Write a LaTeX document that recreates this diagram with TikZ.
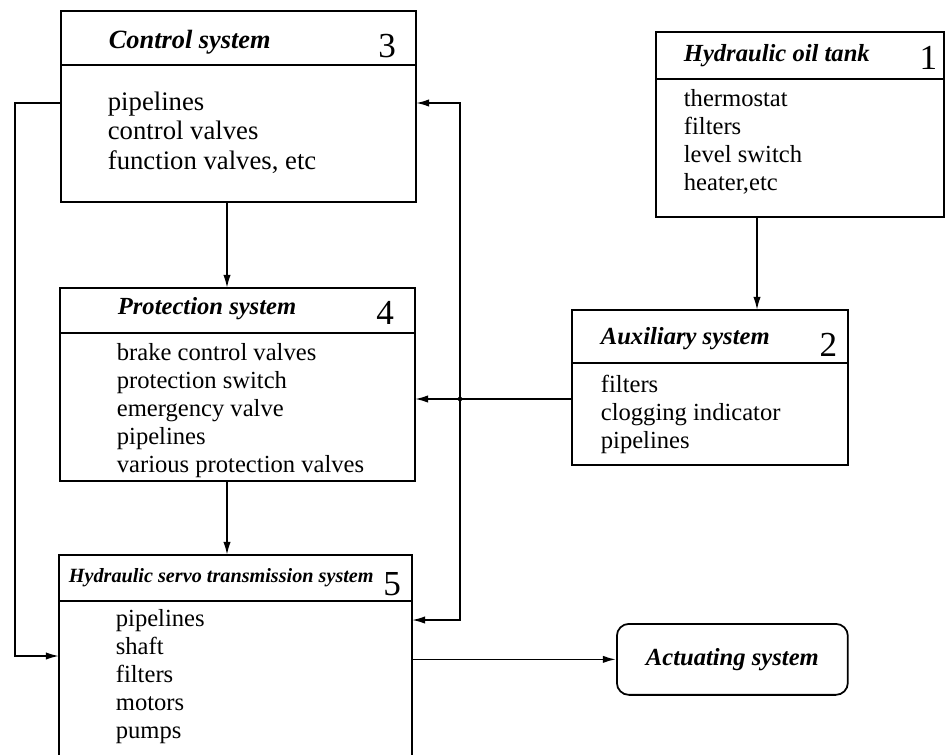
\documentclass[tikz,border=0pt]{standalone}
\usepackage{fontspec}
\setmainfont{Liberation Serif}
\usetikzlibrary{arrows.meta,positioning,calc}

\begin{document}
\begin{tikzpicture}[
    x=0.02cm, y=-0.02cm,
    line width=1pt,
    >={Latex[length=7.5pt,width=4.2pt]},
    boxpart/.style={draw, rectangle, inner sep=0pt, outer sep=0pt, anchor=north west},
    title/.style={font=\fontsize{14}{16}\selectfont\bfseries\itshape, inner sep=0pt, anchor=west},
    number/.style={font=\fontsize{20}{22}\selectfont, inner sep=0pt, anchor=base east},
    items/.style={font=\fontsize{14}{15.9}\selectfont, align=left, inner sep=0pt, anchor=north west}
]

% Frame
\useasboundingbox (0,0) rectangle (946,754);
\clip (0,0) rectangle (946,754);

% Control system
\node[boxpart, minimum width=7.1cm, minimum height=1.08cm] (ctrl-head) at (61,11) {};
\node[boxpart, minimum width=7.1cm, minimum height=2.74cm] (ctrl) at (ctrl-head.south west) {};
\node[title, font=\fontsize{15}{17}\selectfont\bfseries\itshape] (ctrl-title) at ($(ctrl-head.west)+(47,4)$) {Control system};
\node[number] (ctrl-num) at ($(ctrl-head.south east)+(-19,-7)$) {3};
\node[items, font=\fontsize{15.2}{16.7}\selectfont] (ctrl-list) at ($(ctrl.north west)+(46,26)$)
    {pipelines\\control valves\\function valves, etc};

% Protection system
\node[boxpart, minimum width=7.1cm, minimum height=0.9cm] (prot-head) at (60,288) {};
\node[boxpart, minimum width=7.1cm, minimum height=2.96cm] (prot) at (prot-head.south west) {};
\node[title] (prot-title) at ($(prot-head.west)+(57,-2)$) {Protection system};
\node[number] (prot-num) at ($(prot-head.south east)+(-20,-8)$) {4};
\node[items] (prot-list) at ($(prot.north west)+(56,10)$)
    {brake control valves\\protection switch\\emergency valve\\pipelines\\various protection valves};

% Hydraulic servo transmission system
\node[boxpart, minimum width=7.06cm, minimum height=0.92cm] (svo-head) at (59,555) {};
\node[boxpart, minimum width=7.06cm, minimum height=3.4cm] (svo) at (svo-head.south west) {};
\node[title, font=\fontsize{11.5}{13}\selectfont\bfseries\itshape] (svo-title) at ($(svo-head.west)+(9,0)$)
    {Hydraulic servo transmission system};
\node[number] (svo-num) at ($(svo-head.south east)+(-10,-6)$) {5};
\node[items] (svo-list) at ($(svo.north west)+(56,8)$)
    {pipelines\\shaft\\filters\\motors\\pumps};

% Hydraulic oil tank
\node[boxpart, minimum width=5.76cm, minimum height=0.94cm] (tank-head) at (656,32) {};
\node[boxpart, minimum width=5.76cm, minimum height=2.76cm] (tank) at (tank-head.south west) {};
\node[title] (tank-title) at ($(tank-head.west)+(27,0)$) {Hydraulic oil tank};
\node[number] (tank-num) at ($(tank-head.south east)+(-6,-9)$) {1};
\node[items] (tank-list) at ($(tank.north west)+(27,10)$)
    {thermostat\\filters\\level switch\\heater,etc};

% Auxiliary system
\node[boxpart, minimum width=5.52cm, minimum height=1.06cm] (aux-head) at (572,310) {};
\node[boxpart, minimum width=5.52cm, minimum height=2.04cm] (aux) at (aux-head.south west) {};
\node[title] (aux-title) at ($(aux-head.west)+(28,2)$) {Auxiliary system};
\node[number] (aux-num) at ($(aux-head.south east)+(-10,-6)$) {2};
\node[items] (aux-list) at ($(aux.north west)+(28,11)$)
    {filters\\clogging indicator\\pipelines};

% Actuating system
\node[draw, rounded corners=0.24cm, minimum width=4.62cm, minimum height=1.42cm, inner sep=0pt,
      anchor=north west, font=\fontsize{14}{16}\selectfont\bfseries\itshape] (act) at (616,623) {Actuating system};

% Routing points
\coordinate (trunk) at (227,0);
\coordinate (feed) at (757,0);
\coordinate (loopL) at (15,0);
\coordinate (loopR) at (460,0);
\coordinate (cross) at (460,399);

% Connectors
\draw[->] (ctrl.south -| trunk) -- (prot-head.north -| trunk);
\draw[->] (prot.south -| trunk) -- (svo-head.north -| trunk);
\draw[->] (tank.south -| feed) -- (aux-head.north -| feed);
\draw[->] (aux.west |- cross) -- (prot.east |- cross);
\fill (cross) circle (1.3pt);
\draw[->] (ctrl.west |- 0,103) -- (loopL |- 0,103) -- (loopL |- 0,656) -- (svo.west |- 0,656);
\draw[<->] (ctrl.east |- 0,103) -- (loopR |- 0,103) -- (loopR |- 0,620) -- (svo.east |- 0,620);
\draw[->] (svo.east |- act.west) -- (act.west);

\end{tikzpicture}
\end{document}
